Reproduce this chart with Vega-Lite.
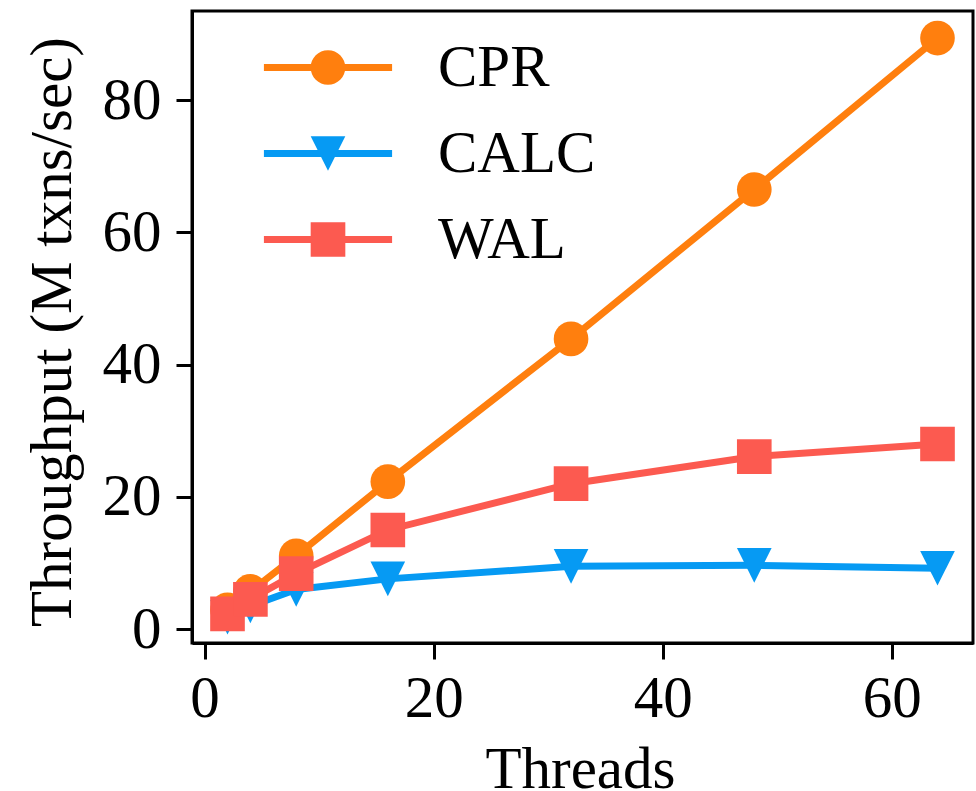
{
  "$schema": "https://vega.github.io/schema/vega-lite/v6.json",
  "width": 781,
  "height": 632,
  "autosize": {"type": "none"},
  "padding": {"left": 192, "top": 11, "right": 3, "bottom": 148},
  "background": "white",
  "data": {
    "values": [
      {"series": "CPR", "threads": 2, "tput": 2.9},
      {"series": "CPR", "threads": 4, "tput": 5.7},
      {"series": "CPR", "threads": 8, "tput": 11.1},
      {"series": "CPR", "threads": 16, "tput": 22.3},
      {"series": "CPR", "threads": 32, "tput": 43.9},
      {"series": "CPR", "threads": 48, "tput": 66.5},
      {"series": "CPR", "threads": 64, "tput": 89.4},
      {"series": "CALC", "threads": 2, "tput": 1.8},
      {"series": "CALC", "threads": 4, "tput": 3.5},
      {"series": "CALC", "threads": 8, "tput": 6.0},
      {"series": "CALC", "threads": 16, "tput": 7.6},
      {"series": "CALC", "threads": 32, "tput": 9.5},
      {"series": "CALC", "threads": 48, "tput": 9.65},
      {"series": "CALC", "threads": 64, "tput": 9.2},
      {"series": "WAL", "threads": 2, "tput": 2.3},
      {"series": "WAL", "threads": 4, "tput": 4.5},
      {"series": "WAL", "threads": 8, "tput": 8.4},
      {"series": "WAL", "threads": 16, "tput": 15.0},
      {"series": "WAL", "threads": 32, "tput": 22.0},
      {"series": "WAL", "threads": 48, "tput": 26.1},
      {"series": "WAL", "threads": 64, "tput": 28.0}
    ]
  },
  "config": {
    "view": {"stroke": "black", "strokeWidth": 3},
    "axis": {
      "labelFont": "Liberation Serif",
      "labelFontSize": 59,
      "labelColor": "black",
      "titleFont": "Liberation Serif",
      "titleFontSize": 59,
      "titleFontWeight": "normal",
      "titleColor": "black",
      "domainColor": "black",
      "domainWidth": 3,
      "tickColor": "black",
      "tickWidth": 3,
      "tickSize": 16,
      "grid": false,
      "labelFlush": false,
      "labelOverlap": false
    }
  },
  "encoding": {
    "x": {
      "field": "threads",
      "type": "quantitative",
      "scale": {"domain": [-1.1, 67.1], "nice": false, "zero": false},
      "axis": {"values": [0, 20, 40, 60], "title": "Threads", "labelPadding": 10, "titleBaseline": "alphabetic", "titleX": 388, "titleY": 144, "titleAlign": "center"}
    },
    "y": {
      "field": "tput",
      "type": "quantitative",
      "scale": {"domain": [-2.1, 93.5], "nice": false, "zero": false},
      "axis": {"values": [0, 20, 40, 60, 80], "title": "Throughput (M txns/sec)", "labelPadding": 15, "titleAngle": -90, "titleBaseline": "alphabetic", "titleX": -122, "titleY": 320.5, "titleAlign": "center"}
    },
    "color": {
      "field": "series",
      "type": "nominal",
      "scale": {"domain": ["CPR", "CALC", "WAL"], "range": ["#ff7f0e", "#069af3", "#fc5a50"]}
    }
  },
  "layer": [
    {
      "mark": {"type": "line", "strokeWidth": 7}
    },
    {
      "mark": {"type": "point", "filled": true, "opacity": 1, "size": 1200, "strokeWidth": 0},
      "encoding": {
        "color": {
          "field": "series",
          "type": "nominal",
          "scale": {"domain": ["CPR", "CALC", "WAL"], "range": ["#ff7f0e", "#069af3", "#fc5a50"]},
          "legend": {
            "orient": "none",
            "legendX": 106.5,
            "legendY": 27,
            "title": null,
            "padding": 0,
            "labelOffset": 80.5,
            "rowPadding": 26,
            "symbolSize": 1200,
            "symbolStrokeWidth": 0,
            "symbolOpacity": 1,
            "labelFont": "Liberation Serif",
            "labelFontSize": 59,
            "labelColor": "black",
            "encode": {
              "symbols": {
                "update": {
                  "shape": {"signal": "datum.value === 'CPR' ? 'M-3.7,-0.2H3.7V0.2H-3.7Z M-1,0A1,1,0,1,1,1,0A1,1,0,1,1,-1,0Z' : (datum.value === 'CALC' ? 'M-3.7,-0.2H3.7V0.2H-3.7Z M-1,-1L1,-1L0,1Z' : 'M-3.7,-0.2H3.7V0.2H-3.7Z M-1,-1H1V1H-1Z')"}
                }
              }
            }
          }
        },
        "shape": {
          "field": "series",
          "type": "nominal",
          "scale": {
            "domain": ["CALC", "CPR", "WAL"],
            "range": ["M-1,-1L1,-1L0,1Z", "M-1,0A1,1,0,1,1,1,0A1,1,0,1,1,-1,0Z", "M-1,-1H1V1H-1Z"]
          },
          "legend": null
        }
      }
    }
  ]
}
